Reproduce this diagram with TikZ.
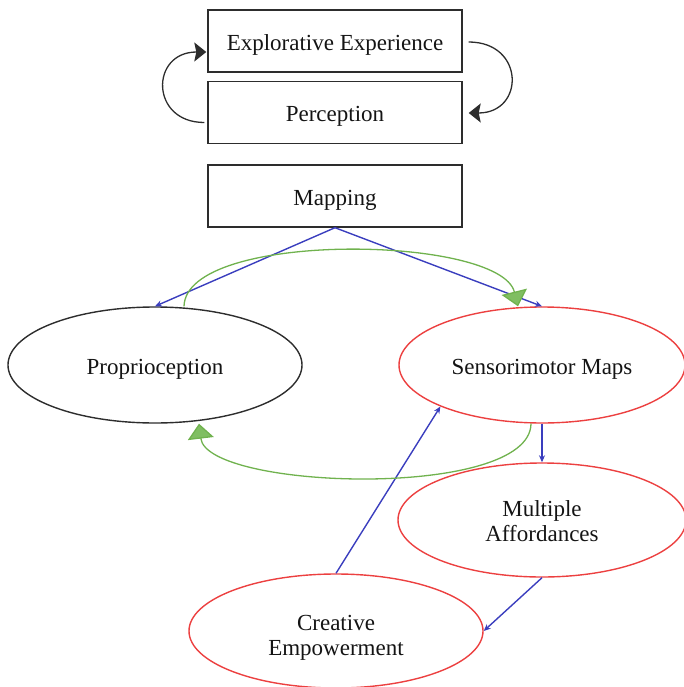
\documentclass[tikz,border=0pt]{standalone}
\usepackage{fontspec}
\setmainfont{Liberation Serif}
\usetikzlibrary{shapes.geometric,arrows.meta}
\definecolor{redline}{RGB}{236,64,64}
\definecolor{blueline}{RGB}{58,62,190}
\definecolor{greenline}{RGB}{112,178,78}
\definecolor{greenfill}{RGB}{128,190,98}
\definecolor{boxline}{RGB}{45,45,45}
\tikzset{
  txt/.style={font=\fontsize{23}{25}\selectfont, text=black!92, align=center},
  oneline/.style={text height=19pt, text depth=0pt},
  boxnode/.style={txt, oneline, draw=boxline, line width=1.4pt, minimum width=254pt, minimum height=62pt, inner sep=0pt},
  ellnode/.style={txt, ellipse, line width=1.4pt, minimum width=290pt, minimum height=116pt, inner sep=0pt},
  blkarrow/.style={draw=boxline, line width=1.3pt, -{Stealth[length=12pt,width=19pt,inset=2pt]}},
  bluearrow/.style={draw=blueline, line width=1.4pt, -{Stealth[length=7pt,width=6pt]}},
  greenarrow/.style={draw=greenline, line width=1.3pt, -{Triangle[length=15pt,width=26pt,fill=greenfill]}}
}
\begin{document}
\begin{tikzpicture}[x=1pt,y=-1pt]
\useasboundingbox (0,0) rectangle (683,687);
\node[boxnode] (exp) at (335,41) {Explorative Experience};
\node[boxnode] (perc) at (335,112.5) {Perception};
\node[boxnode] (map) at (335,196) {Mapping};
\node[ellnode, oneline, draw=boxline, minimum width=294pt] (prop) at (155,365) {Proprioception};
\node[ellnode, oneline, draw=redline, minimum width=286pt] (sens) at (542,365) {Sensorimotor Maps};
\node[ellnode, draw=redline, minimum width=288pt, minimum height=114pt] (mult) at (542,520)
  {\raisebox{-9.75pt}[0pt][0pt]{\begin{tabular}{@{}c@{}}Multiple\\Affordances\end{tabular}}};
\node[ellnode, draw=redline, minimum width=294pt, minimum height=114pt] (creat) at (336,631)
  {\raisebox{-12.75pt}[0pt][0pt]{\begin{tabular}{@{}c@{}}Creative\\Empowerment\end{tabular}}};
% black loop arrows
\draw[blkarrow] ([shift={(-3,10)}]perc.west) .. controls (150,122.5) and (150,52) .. ([shift={(-1,11)}]exp.west);
\draw[blkarrow] ([shift={(6,1)}]exp.east) .. controls (525,42) and (525,113) .. ([shift={(6,0.5)}]perc.east);
% blue arrows
\draw[bluearrow] (map.south) -- (prop.north);
\draw[bluearrow] (map.south) -- (sens.north);
\draw[bluearrow] (sens.south) -- (mult.north);
\draw[bluearrow] (mult.south) -- (creat.east);
\draw[bluearrow] (creat.north) -- (sens.south west);
% green arcs
\draw[greenarrow] ([xshift=29pt]prop.north) .. controls (186,230) and (500,235) .. ([xshift=-24pt]sens.north);
\draw[greenarrow] ([xshift=-11pt]sens.south) .. controls (530,500) and (207,490) .. ([xshift=44pt]prop.south);
\end{tikzpicture}
\end{document}
